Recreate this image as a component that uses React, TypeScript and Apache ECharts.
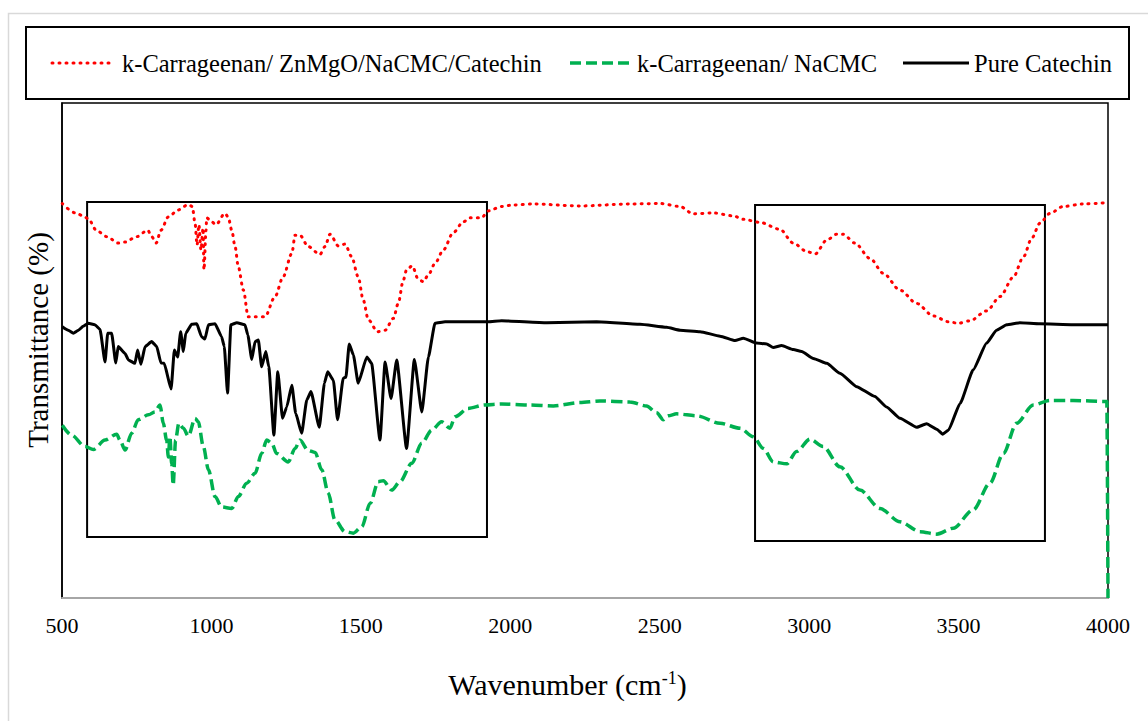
import React, { useEffect, useRef } from "react";
import * as echarts from "echarts";

const FONT = "Liberation Serif";

const seriesNames = [
  "k-Carrageenan/ ZnMgO/NaCMC/Catechin",
  "k-Carrageenan/ NaCMC",
  "Pure Catechin",
];
const seriesColors = ["#ff0000", "#00b050", "#000000"];

const xTicks = { min: 500, max: 4000, step: 500 };

// [wavenumber (cm-1), transmittance (arbitrary %, offset traces)]
const redData: [number, number][] = [
  [501, 79.7], [544, 77.8], [571, 77.2], [588, 76.6], [616, 74.2], [650, 73.0], [688, 71.7], [711, 71.9],
  [750, 73.0], [787, 74.3], [800, 73.0], [815, 71.7], [831, 74.3], [856, 77.0], [889, 78.4], [923, 79.5],
  [936, 79.1], [945, 75.8], [952, 71.3], [958, 75.4], [965, 70.3], [972, 74.7], [975, 66.3], [982, 74.3],
  [984, 76.8], [1001, 76.0], [1015, 75.4], [1045, 77.7], [1056, 77.0], [1068, 74.3], [1079, 71.0], [1090, 66.9],
  [1107, 62.2], [1123, 56.8], [1146, 56.8], [1179, 56.8], [1213, 60.9], [1240, 64.9], [1269, 69.6], [1280, 73.3],
  [1296, 73.3], [1324, 71.0], [1363, 69.4], [1380, 71.0], [1397, 73.5], [1425, 71.1], [1447, 71.5], [1469, 69.0],
  [1491, 64.9], [1508, 60.2], [1525, 56.2], [1556, 53.8], [1581, 54.1], [1609, 56.5], [1625, 59.5], [1642, 64.2],
  [1653, 66.3], [1672, 67.1], [1692, 64.4], [1709, 63.9], [1726, 65.3], [1748, 67.6], [1776, 70.3], [1809, 73.8],
  [1843, 76.0], [1865, 76.8], [1904, 76.8], [1926, 78.2], [1971, 79.1], [2010, 79.4], [2077, 79.6], [2233, 79.2],
  [2400, 79.6], [2501, 79.7], [2568, 79.1], [2612, 77.6], [2679, 77.8], [2746, 77.2], [2780, 76.5], [2835, 75.9],
  [2902, 74.5], [2947, 71.7], [2992, 70.0], [3020, 69.5], [3059, 72.3], [3092, 73.5], [3114, 73.5], [3153, 71.7],
  [3204, 68.6], [3248, 65.6], [3304, 62.2], [3360, 59.5], [3415, 57.0], [3466, 55.8], [3499, 55.5], [3538, 56.0],
  [3594, 58.0], [3639, 60.9], [3683, 64.8], [3717, 68.9], [3745, 72.7], [3772, 75.7], [3806, 77.7], [3850, 79.1],
  [3917, 79.6], [4000, 79.9],
];

const greenData: [number, number][] = [
  [501, 34.9], [532, 32.9], [577, 30.6], [605, 30.0], [644, 31.9], [683, 33.1], [694, 31.9], [711, 29.9],
  [733, 33.3], [755, 36.0], [789, 37.0], [811, 37.6], [828, 39.0], [839, 35.3], [850, 31.9], [856, 28.5],
  [861, 32.6], [867, 27.2], [872, 22.8], [880, 31.9], [891, 35.3], [906, 34.3], [923, 32.7], [945, 36.3],
  [956, 35.6], [973, 30.6], [990, 25.9], [1012, 20.5], [1034, 18.4], [1068, 18.1], [1090, 20.5], [1118, 23.2],
  [1146, 25.2], [1168, 29.2], [1185, 31.9], [1202, 31.3], [1218, 29.2], [1257, 27.5], [1280, 30.2], [1296, 31.9],
  [1324, 29.8], [1347, 29.4], [1369, 25.9], [1391, 21.2], [1413, 15.8], [1447, 13.4], [1475, 13.1], [1503, 14.4],
  [1531, 19.1], [1558, 23.5], [1575, 23.7], [1603, 21.8], [1631, 23.5], [1670, 27.2], [1704, 31.3], [1737, 33.9],
  [1770, 35.6], [1798, 34.3], [1815, 36.6], [1859, 38.3], [1915, 39.0], [1971, 39.2], [2066, 39.0], [2144, 38.8],
  [2233, 39.5], [2300, 39.8], [2400, 39.6], [2456, 38.8], [2490, 37.4], [2512, 36.0], [2528, 36.8], [2557, 37.2],
  [2624, 36.8], [2702, 35.3], [2769, 34.3], [2813, 32.6], [2847, 30.2], [2880, 27.5], [2925, 27.1], [2958, 29.6],
  [3003, 32.1], [3047, 30.6], [3103, 26.5], [3170, 21.8], [3237, 18.1], [3304, 15.4], [3371, 13.4], [3427, 12.9],
  [3482, 14.1], [3549, 17.8], [3605, 23.2], [3650, 29.2], [3694, 35.3], [3750, 39.0], [3806, 39.9], [3883, 39.9],
  [3996, 39.7], [4000, 0],
];

const blackData: [number, number][] = [
  [501, 54.8], [521, 54.1], [538, 53.5], [555, 54.1], [571, 54.9], [588, 55.5], [610, 55.2], [627, 54.3],
  [644, 47.7], [653, 53.5], [666, 53.5], [680, 47.5], [688, 50.8], [711, 49.4], [722, 48.1], [744, 47.4],
  [753, 50.1], [764, 47.2], [778, 50.8], [800, 51.8], [817, 50.8], [831, 47.5], [842, 47.4], [865, 42.2],
  [876, 50.1], [887, 48.7], [897, 53.8], [906, 49.8], [914, 53.5], [934, 55.3], [951, 55.4], [967, 52.8],
  [978, 52.3], [990, 55.2], [1012, 55.4], [1034, 52.8], [1043, 50.8], [1054, 41.4], [1065, 55.2], [1085, 55.6],
  [1112, 55.2], [1122, 53.1], [1135, 48.2], [1146, 51.8], [1157, 52.1], [1168, 46.7], [1182, 49.8], [1192, 46.7],
  [1209, 32.9], [1222, 45.7], [1238, 36.3], [1252, 38.6], [1269, 43.0], [1282, 37.3], [1302, 33.3], [1319, 40.0],
  [1333, 41.7], [1361, 34.5], [1378, 43.4], [1389, 45.7], [1408, 44.0], [1422, 36.0], [1441, 44.4], [1450, 44.6],
  [1461, 51.3], [1475, 49.1], [1491, 43.4], [1520, 48.7], [1536, 47.4], [1564, 31.9], [1581, 47.7], [1601, 40.3],
  [1620, 48.1], [1653, 30.2], [1679, 48.2], [1704, 37.6], [1726, 48.7], [1748, 55.5], [1782, 55.8], [1926, 55.8],
  [1971, 56.0], [2122, 55.6], [2289, 55.8], [2434, 55.3], [2523, 54.7], [2568, 54.1], [2635, 53.8], [2702, 52.9],
  [2752, 52.0], [2780, 52.5], [2824, 51.5], [2858, 51.3], [2880, 50.6], [2908, 51.0], [2947, 50.2], [2975, 49.8],
  [3014, 48.4], [3059, 47.4], [3103, 45.4], [3159, 42.7], [3220, 40.7], [3259, 38.6], [3304, 36.3], [3360, 34.5],
  [3393, 35.2], [3427, 34.1], [3447, 33.1], [3466, 33.9], [3505, 39.3], [3549, 46.1], [3594, 51.5], [3627, 54.1],
  [3661, 55.2], [3705, 55.6], [3772, 55.4], [3883, 55.2], [4000, 55.2],
];

// highlighted regions: [xFrom, yTop, xTo, yBottom] in data units
const highlightBoxes: [number, number, number, number][] = [
  [584, 80.0, 1922, 12.3],
  [2819, 79.4, 3789, 11.5],
];

const lineStyles = [
  { width: 3, type: [1, 6] as number[], cap: "round" },
  { width: 3.5, type: [11, 5] as number[], cap: "butt" },
  { width: 3, type: "solid" as any, cap: "butt" },
];

// legend layout (pixel positions of the swatch start/end and text start)
const legendLayout = [
  { x1: 52, x2: 113, tx: 122 },
  { x1: 570, x2: 633, tx: 637 },
  { x1: 903, x2: 969, tx: 974 },
];

const BASE_SIZE = 29;

// text drawn at a large base size and scaled down to the wanted size
function serifText(x: number, y: number, text: string, size: number, align: string) {
  const s = size / BASE_SIZE;
  return {
    type: "text",
    x,
    y,
    scaleX: s,
    scaleY: s,
    silent: true,
    style: {
      text,
      fontFamily: FONT,
      fontSize: BASE_SIZE,
      fill: "#000",
      align,
      verticalAlign: "middle",
    },
  };
}

export default function App() {
  const ref = useRef<HTMLDivElement>(null);

  useEffect(() => {
    document.body.style.margin = "0";
    const chart = echarts.init(ref.current!, null, { renderer: "svg" });
    const allData = [redData, greenData, blackData];
    chart.setOption({
      animation: false,
      backgroundColor: "#ffffff",
      textStyle: { fontFamily: FONT },
      grid: {
        left: 62,
        right: 40,
        top: 103,
        bottom: 123,
        show: true,
        borderColor: "#000",
        borderWidth: 1.5,
        backgroundColor: "transparent",
      },
      xAxis: {
        type: "value",
        min: xTicks.min,
        max: xTicks.max,
        interval: xTicks.step,
        axisLine: { show: true, lineStyle: { color: "#a6a6a6", width: 2 } },
        axisTick: { show: false },
        splitLine: { show: false },
        axisLabel: { show: false },
      },
      yAxis: {
        type: "value",
        min: 0,
        max: 100,
        axisLine: { show: true, lineStyle: { color: "#000", width: 1.5 } },
        axisTick: { show: false },
        axisLabel: { show: false },
        splitLine: { show: false },
      },
      series: seriesNames.map((name, i) => ({
        name,
        type: "line",
        data: allData[i],
        symbol: "none",
        showSymbol: false,
        smooth: i === 2 ? 0.15 : 0.3,
        smoothMonotone: "x",
        lineStyle: {
          color: seriesColors[i],
          width: lineStyles[i].width,
          type: lineStyles[i].type,
          cap: lineStyles[i].cap,
        },
        itemStyle: { color: seriesColors[i] },
        z: i === 2 ? 4 : 3,
        markArea:
          i === 2
            ? {
                silent: true,
                itemStyle: { color: "rgba(0,0,0,0)", borderColor: "#000", borderWidth: 2 },
                data: highlightBoxes.map(([x1, y1, x2, y2]) => [
                  { xAxis: x1, yAxis: y1 },
                  { xAxis: x2, yAxis: y2 },
                ]),
              }
            : undefined,
      })),
    });

    // tick labels placed with the axis scale
    const tickTexts: any[] = [];
    for (let v = xTicks.min; v <= xTicks.max; v += xTicks.step) {
      const p = chart.convertToPixel({ xAxisIndex: 0, yAxisIndex: 0 }, [v, 0]) as number[];
      tickTexts.push(serifText(p[0], p[1] + 27, String(v), 22, "center"));
    }

    const legendEls: any[] = [];
    seriesNames.forEach((name, i) => {
      const L = legendLayout[i];
      const ls = lineStyles[i];
      legendEls.push({
        type: "line",
        silent: true,
        shape: { x1: L.x1, y1: 63, x2: L.x2, y2: 63 },
        style: {
          stroke: seriesColors[i],
          lineWidth: ls.width,
          lineDash: Array.isArray(ls.type) ? ls.type : null,
          lineCap: ls.cap,
        },
      });
      legendEls.push(serifText(L.tx, 63.5, name, 24.5, "left"));
    });

    chart.setOption({
      graphic: {
        elements: [
          {
            type: "rect",
            silent: true,
            shape: { x: 8.5, y: 13.5, width: 1150, height: 720 },
            style: { fill: "none", stroke: "#d9d9d9", lineWidth: 1.5 },
          },
          {
            type: "rect",
            silent: true,
            shape: { x: 26, y: 27, width: 1103, height: 72 },
            style: { fill: "none", stroke: "#000000", lineWidth: 2 },
          },
          ...legendEls,
          ...tickTexts,
          {
            type: "text",
            x: 37.5,
            y: 340,
            rotation: Math.PI / 2,
            silent: true,
            style: {
              text: "Transmittance (%)",
              fontFamily: FONT,
              fontSize: 29,
              fill: "#000",
              align: "center",
              verticalAlign: "middle",
            },
          },
          {
            type: "text",
            x: 567.5,
            y: 684,
            silent: true,
            style: {
              text: "{a|Wavenumber (cm}{b|-1}{a|)}",
              fontFamily: FONT,
              align: "center",
              verticalAlign: "middle",
              rich: {
                a: { fontFamily: FONT, fontSize: 30, fill: "#000" },
                b: { fontFamily: FONT, fontSize: 18, fill: "#000", verticalAlign: "top" },
              },
            },
          },
        ],
      },
    });
    return () => chart.dispose();
  }, []);

  return <div ref={ref} style={{ width: 1148, height: 721, background: "#fff" }} />;
}
